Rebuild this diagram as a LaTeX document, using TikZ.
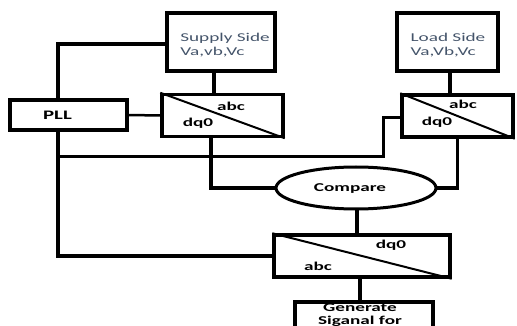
\documentclass[tikz,border=0pt]{standalone}
\usepackage{fontspec}
\setmainfont{Carlito}[FakeStretch=1.6]
\usepackage{xcolor}
\usetikzlibrary{shapes,arrows}
\definecolor{sidetext}{HTML}{44546A}

\tikzset{
	blk/.style={draw,line width=3.5pt,rectangle,inner sep=0pt},
	conv/.style={blk,minimum height=42pt},
	lbl/.style={font=\bfseries\fontsize{12}{12}\selectfont,inner sep=0pt},
	wire/.style={line width=3.5pt,line cap=rect},
}

\begin{document}
\begin{tikzpicture}[x=1pt,y=-1pt]
		\useasboundingbox (0,0) rectangle (517,326);
		\clip (0,0) rectangle (517,326);
		
		\node[blk,minimum width=108pt,minimum height=58pt] (S) at (221,42) {};
		\node[align=left,text=sidetext,inner sep=0pt,
		      font=\fontsize{12}{13.5}\selectfont] (S') at (225,45) {Supply Side\\Va,vb,Vc};
		\node[blk,minimum width=101pt,minimum height=58pt] (L) at (447.5,42) {};
		\node[align=left,text=sidetext,inner sep=0pt,
		      font=\fontsize{12}{13.5}\selectfont] (L') at (448,45) {Load Side\\Va,Vb,Vc};
		
		\node[blk,minimum width=117pt,minimum height=30pt] (P) at (68.5,115) {};
		\node[lbl,font=\bfseries\fontsize{13}{13}\selectfont] (P') at (57.5,115) {PLL};
		
		\node[conv,minimum width=121pt] (T1) at (222.5,115.5) {};
		\node[conv,minimum width=111pt] (T2) at (457.5,116) {};
		\node[conv,minimum width=176pt] (T3) at (362,256) {};
		
		\node[draw,ellipse,line width=3pt,minimum width=160pt,minimum height=42pt] (C) at (356,188) {};
		\node[lbl] (C') at (350,188.5) {Compare};
		
		\node[blk,minimum width=138pt,minimum height=50pt,anchor=north] (G) at (364,300) {};
		\node[lbl,align=center,font=\bfseries\fontsize{12}{12.5}\selectfont,anchor=north] (G') at (360,303.5) {Generate\\Siganal for};
		
		% labels of the converters
		\node[lbl] (T1a) at (231,106) {abc};
		\node[lbl] (T1d) at (198,123) {dq0};
		\node[lbl] (T2a) at (463,104) {abc};
		\node[lbl] (T2d) at (437,122) {dq0};
		\node[lbl] (T3d) at (391,245) {dq0};
		\node[lbl] (T3a) at (318,266) {abc};
		
		\draw[line width=2pt] (T1.north west) -- (T1.south east);
		\draw[line width=2pt] (T2.north west) -- (T2.south east);
		\draw[line width=2pt] (T3.north west) -- (T3.south east);
		
		\coordinate (j) at (58,157);
		\coordinate (k) at (383,157);
		%
		\draw[wire] ([yshift=-2pt]S.west) -| ([xshift=-10.5pt]P.north);
		\draw[line width=2.5pt] (P.east) -- (T1.west);
		\draw[wire] ([xshift=-7pt]S.south) -- ([xshift=-7pt]S.south |- T1.north);
		\draw[wire] ([xshift=-11.5pt]T1.south) |- (C.west);
		\draw[wire] ([xshift=2.5pt]L.south) -- ([xshift=2.5pt]L.south |- T2.north);
		\draw[wire] (T2.south) |- (C.east);
		\draw[wire] ([xshift=-10.5pt]P.south) |- (T3.west);
		\draw[line width=3pt] (j) -- (k) |- ([yshift=-2pt]T2.west);
		\draw[wire] ([xshift=1pt]C.south) -- ([xshift=1pt]C.south |- T3.north);
		\draw[wire] ([xshift=-4pt]G.north) -- ([xshift=-4pt]G.north |- T3.south);
		
	\end{tikzpicture}
\end{document}
